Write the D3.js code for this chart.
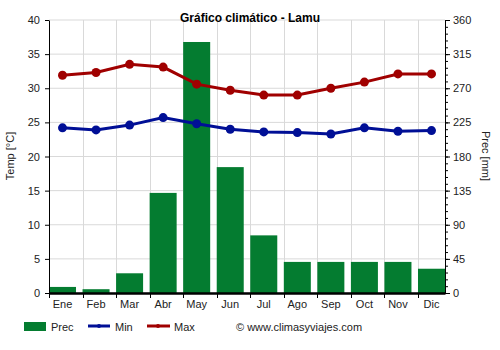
<!DOCTYPE html>
<html><head><meta charset="utf-8">
<script src="https://cdn.jsdelivr.net/npm/d3@7"></script>
<style>body{margin:0;background:#fff}svg{font-family:Arial,"Liberation Sans",sans-serif}</style>
</head><body><svg id="c" width="500" height="350"></svg>
<script>
const months = ["Ene","Feb","Mar","Abr","May","Jun","Jul","Ago","Sep","Oct","Nov","Dic"];
const prec = [8,5,26,132,331,166,76,41,41,41,41,32];
const tmin = [24.2,23.9,24.6,25.7,24.8,24.0,23.6,23.5,23.3,24.2,23.7,23.8];
const tmax = [31.9,32.3,33.5,33.1,30.6,29.7,29.0,29.0,30.0,30.9,32.1,32.1];
const tempTicks = [0,5,10,15,20,25,30,35,40];
const precTicks = [0,45,90,135,180,225,270,315,360];

const svg = d3.select("#c");
const L=49,R=445,T=20,B=293;
const xb = d3.scaleBand().domain(months).range([L,R]).paddingInner(0.195).paddingOuter(0);
const cx = d=>xb(d)+xb.bandwidth()/2;
const yT = d3.scaleLinear().domain([0,40]).range([B,T]);
const yP = d3.scaleLinear().domain([0,360]).range([B,T]);

// grid
const g = svg.append("g");
g.selectAll(".hg").data(tempTicks).join("line")
 .attr("x1",L).attr("x2",R).attr("y1",d=>yT(d)).attr("y2",d=>yT(d))
 .attr("stroke","#d9d9d9").attr("stroke-width",1);
g.selectAll(".vg").data(months.slice(1)).join("line")
 .attr("x1",d=>Math.round(xb(d))+0.5).attr("x2",d=>Math.round(xb(d))+0.5).attr("y1",T).attr("y2",B)
 .attr("stroke","#d9d9d9").attr("stroke-width",1);

// bars
svg.selectAll(".bar").data(months).join("rect")
 .attr("x",d=>xb(d)).attr("width",xb.bandwidth())
 .attr("y",(d,i)=>yP(prec[i])).attr("height",(d,i)=>B-yP(prec[i]))
 .attr("fill","#047c30");

// axes
const axL = svg.append("g").attr("transform",`translate(${L},0)`)
 .call(d3.axisLeft(yT).tickValues(tempTicks).tickSize(4).tickSizeOuter(0));
const axR = svg.append("g").attr("transform",`translate(${R},0)`)
 .call(d3.axisRight(yP).tickValues(precTicks).tickSize(5).tickSizeOuter(0));
svg.append("g").attr("transform",`translate(${R},0)`)
 .call(d3.axisRight(yP).tickValues(d3.range(0,361,9)).tickSize(3).tickFormat("").tickSizeOuter(0))
 .select(".domain").remove();
const axB = svg.append("g").attr("transform",`translate(0,${B})`)
 .call(d3.axisBottom(xb).tickSize(0).tickSizeOuter(0));
svg.append("g").selectAll("line").data(months).join("line")
 .attr("x1",d=>Math.round(xb(d))+0.5).attr("x2",d=>Math.round(xb(d))+0.5)
 .attr("y1",B).attr("y2",B+5).attr("stroke","#000");
[axL,axR,axB].forEach(a=>{a.selectAll("text").attr("font-size",11).attr("fill","#222").attr("font-family","Arial,Liberation Sans,sans-serif");a.select(".domain").attr("stroke","#000");});
axB.select(".domain").attr("stroke-width",2.5);
axB.selectAll("text").attr("dy","1.1em");
axL.selectAll("text").attr("dx","-2");

// lines
const line = d3.line().x((d,i)=>cx(months[i])).y(d=>yT(d));
[[tmin,"#000f96"],[tmax,"#a00000"]].forEach(([arr,c])=>{
 svg.append("path").datum(arr).attr("d",line).attr("fill","none").attr("stroke",c).attr("stroke-width",3);
 svg.selectAll(null).data(arr).join("circle")
  .attr("cx",(d,i)=>cx(months[i])).attr("cy",d=>yT(d)).attr("r",4.5).attr("fill",c);
});

// title and labels
svg.append("text").attr("x",250).attr("y",22).attr("text-anchor","middle")
 .attr("font-size",12).attr("font-weight","bold").text("Gráfico climático - Lamu");
svg.append("text").attr("transform","translate(14,156) rotate(-90)").attr("text-anchor","middle")
 .attr("font-size",11).attr("fill","#222").text("Temp [°C]");
svg.append("text").attr("transform","translate(482,156) rotate(90)").attr("text-anchor","middle")
 .attr("font-size",11).attr("fill","#222").text("Prec [mm]");

// legend
const lg = svg.append("g").attr("font-size",11).attr("fill","#222");
lg.append("rect").attr("x",24).attr("y",322).attr("width",22).attr("height",9).attr("fill","#047c30");
lg.append("text").attr("x",51).attr("y",331).text("Prec");
lg.append("line").attr("x1",88).attr("x2",110).attr("y1",326).attr("y2",326).attr("stroke","#000f96").attr("stroke-width",3);
lg.append("circle").attr("cx",99).attr("cy",326).attr("r",2).attr("fill","#000f96");
lg.append("text").attr("x",115).attr("y",331).text("Min");
lg.append("line").attr("x1",147).attr("x2",170).attr("y1",326).attr("y2",326).attr("stroke","#a00000").attr("stroke-width",3);
lg.append("circle").attr("cx",158).attr("cy",326).attr("r",2).attr("fill","#a00000");
lg.append("text").attr("x",174).attr("y",331).text("Max");
lg.append("text").attr("x",236).attr("y",331).text("© www.climasyviajes.com");
</script></body></html>
